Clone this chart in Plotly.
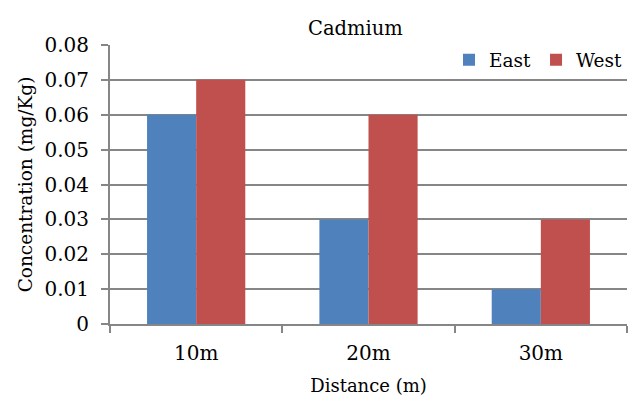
import plotly.graph_objects as go

# data
distances = ['10m', '20m', '30m']
east = [0.06, 0.03, 0.01]
west = [0.07, 0.06, 0.03]
y_ticks = [0, 0.01, 0.02, 0.03, 0.04, 0.05, 0.06, 0.07, 0.08]
y_labels = ['0', '0.01', '0.02', '0.03', '0.04', '0.05', '0.06', '0.07', '0.08']

BLUE = '#4F81BD'
RED = '#C0504D'
GREY = '#868686'
FONT = 'DejaVu Serif'

fig = go.Figure()
fig.add_trace(go.Bar(x=distances, y=east, name='East', marker_color=BLUE,
                     marker_line_width=0))
fig.add_trace(go.Bar(x=distances, y=west, name='West', marker_color=RED,
                     marker_line_width=0))

fig.update_layout(
    width=637, height=407,
    margin=dict(l=110, r=10, t=45, b=83, autoexpand=False),
    paper_bgcolor='white', plot_bgcolor='white',
    font=dict(family=FONT, size=20, color='black'),
    title=dict(text='Cadmium', x=0.558, xanchor='center', y=0.93,
               yanchor='middle', font=dict(size=19.5)),
    barmode='group', bargap=0.43, bargroupgap=0,
    showlegend=True,
    legend=dict(orientation='h', x=1.0, xanchor='right', y=0.945,
                yanchor='middle', bgcolor='rgba(0,0,0,0)',
                font=dict(size=18.5), itemwidth=30, traceorder='normal',
                tracegroupgap=0),
    xaxis=dict(title=dict(text='Distance (m)', standoff=15,
                          font=dict(size=18)),
               automargin=False, ticklabelstandoff=10,
               showline=True, linecolor=GREY, linewidth=2,
               ticks='outside', tickson='boundaries', ticklen=7,
               tickcolor=GREY, tickwidth=2, showgrid=False),
    yaxis=dict(title=dict(text='Concentration (mg/Kg)', standoff=7,
                          font=dict(size=18.5)),
               automargin=False, ticklabelstandoff=8,
               range=[0, 0.08], tickvals=y_ticks, ticktext=y_labels,
               showline=True, linecolor=GREY, linewidth=2,
               ticks='outside', ticklen=7, tickcolor=GREY, tickwidth=2,
               showgrid=True, gridcolor=GREY, gridwidth=2,
               zeroline=False),
)

# drop the default body margin so the figure sits at the window's corner
fig.write_html('out.html', config={'displayModeBar': False},
               post_script="document.body.style.margin='0';")
